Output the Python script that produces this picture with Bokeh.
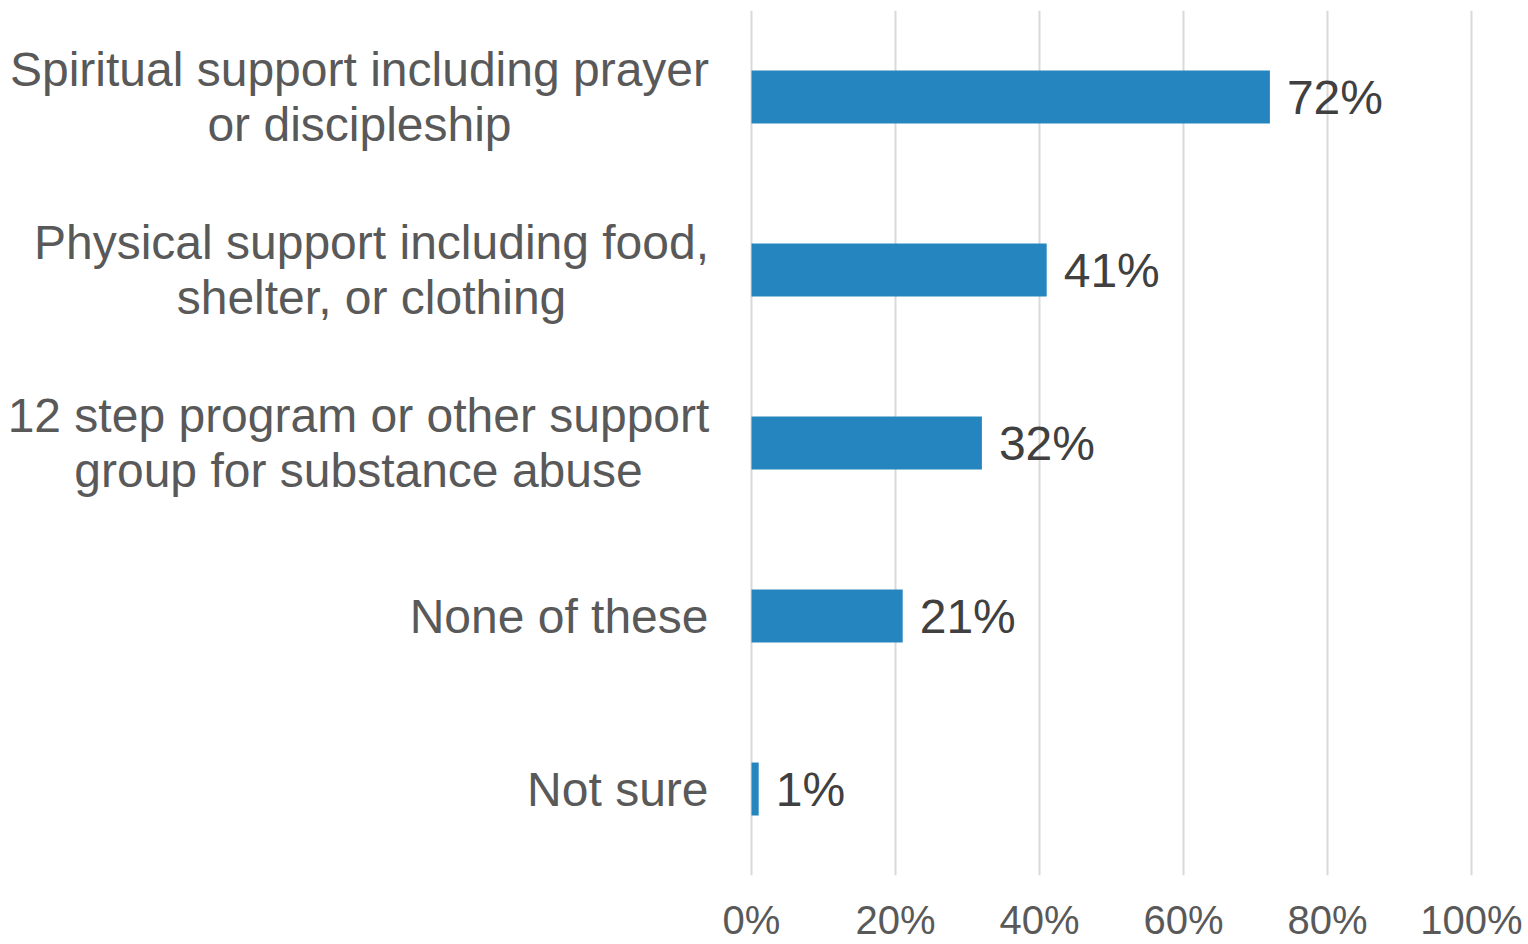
from bokeh.plotting import figure
from bokeh.models import ColumnDataSource, FixedTicker, FactorRange, Range1d
from bokeh.core.properties import value
from bokeh.embed import file_html
from bokeh.resources import INLINE

categories = [
    "Spiritual support including prayer\nor discipleship",
    "Physical support including food,\nshelter, or clothing",
    "12 step program or other support\ngroup for substance abuse",
    "None of these",
    "Not sure",
]
keys = ["spiritual", "physical", "twelve", "none", "notsure"]
values = [72, 41, 32, 21, 1]
value_labels = ["72%", "41%", "32%", "21%", "1%"]
tick_values = [0, 20, 40, 60, 80, 100]
tick_labels = ["0%", "20%", "40%", "60%", "80%", "100%"]

FONT = "Liberation Sans"
PX_PER_UNIT = 7.2
ZERO_PX = 751
W, H = 1528, 944

p = figure(
    width=W, height=H,
    y_range=FactorRange(*reversed(keys), range_padding=0),
    x_range=Range1d(-ZERO_PX / PX_PER_UNIT, (W - ZERO_PX) / PX_PER_UNIT),
    output_backend="svg", toolbar_location=None,
    min_border_left=0, min_border_right=0, min_border_top=10, min_border_bottom=69,
)
p.outline_line_color = None
p.background_fill_color = "white"
p.border_fill_color = "white"

src = ColumnDataSource(dict(key=keys, val=values, lab=value_labels))
p.hbar(y="key", right="val", left=0, height=0.306, source=src,
       fill_color="#2585BE", line_color=None)

p.text(x="val", y="key", text="lab", source=src, x_offset=17,
       text_align="left", text_baseline="middle",
       text_font=value(FONT), text_font_size="48px", text_color="#404040")

# category labels (multi-line labels centred, block right edge at 708px)
label_x_px = [359, 371, 358, 708, 708]
aligns = ["center", "center", "center", "right", "right"]
cat_src = ColumnDataSource(dict(
    key=keys, text=categories,
    x=[(px - ZERO_PX) / PX_PER_UNIT for px in label_x_px],
    align=aligns,
))
p.text(x="x", y="key", text="text", source=cat_src, text_align="align",
       text_baseline="middle", text_line_height=1.05,
       text_font=value(FONT), text_font_size="48px", text_color="#595959")

p.yaxis.visible = False
p.ygrid.visible = False
p.xaxis.ticker = FixedTicker(ticks=tick_values)
p.xaxis.major_label_overrides = {t: l for t, l in zip(tick_values, tick_labels)}
p.xaxis.axis_line_color = None
p.xaxis.major_tick_line_color = None
p.xaxis.minor_tick_line_color = None
p.xaxis.major_tick_out = 0
p.xaxis.major_tick_in = 0
p.xaxis.minor_tick_out = 0
p.xaxis.minor_tick_in = 0
p.xaxis.major_label_standoff = 22
p.xaxis.major_label_text_font = FONT
p.xaxis.major_label_text_font_size = "40px"
p.xaxis.major_label_text_color = "#595959"
p.xgrid.grid_line_color = "#D9D9D9"
p.xgrid.grid_line_width = 2

open("out.html", "w").write(file_html(p, INLINE))
